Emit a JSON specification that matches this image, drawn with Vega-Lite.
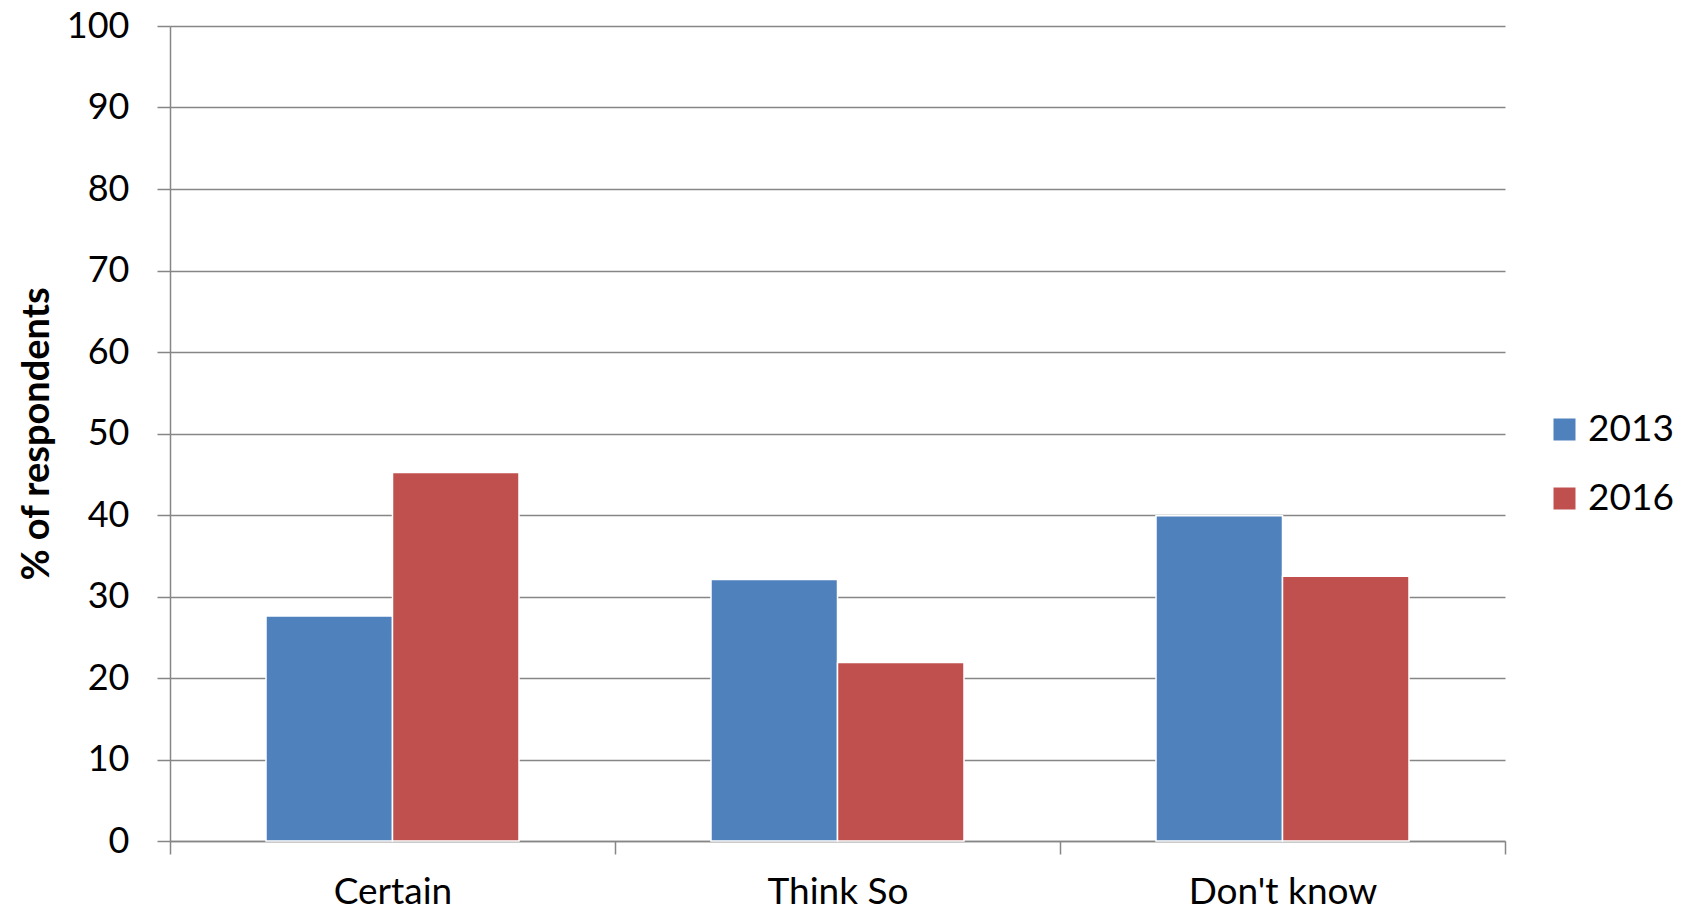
{
  "$schema": "https://vega.github.io/schema/vega-lite/v6.json",
  "width": 1335,
  "height": 815,
  "autosize": "none",
  "padding": {"left": 170, "top": 26, "right": 181, "bottom": 73},
  "background": "white",
  "data": {
    "values": [
      {"response": "Certain", "year": "2013", "pct": 27.6},
      {"response": "Certain", "year": "2016", "pct": 45.2},
      {"response": "Think So", "year": "2013", "pct": 32.1},
      {"response": "Think So", "year": "2016", "pct": 21.9},
      {"response": "Don't know", "year": "2013", "pct": 39.9},
      {"response": "Don't know", "year": "2016", "pct": 32.5}
    ]
  },
  "mark": {"type": "bar", "stroke": "white", "strokeWidth": 1.5},
  "encoding": {
    "x": {
      "field": "response",
      "type": "nominal",
      "sort": ["Certain", "Think So", "Don't know"],
      "scale": {"paddingInner": 0, "paddingOuter": 0},
      "axis": {
        "title": null,
        "labelAngle": 0,
        "labelLimit": 0,
        "tickBand": "extent",
        "tickSize": 13,
        "labelPadding": 20,
        "labelFont": "Lato",
        "labelFontSize": 37,
        "labelColor": "black",
        "domainColor": "#868686",
        "tickColor": "#868686",
        "domainWidth": 1.5,
        "tickWidth": 1.5
      }
    },
    "xOffset": {
      "field": "year",
      "type": "nominal",
      "scale": {"paddingInner": 0, "paddingOuter": 0.759}
    },
    "y": {
      "field": "pct",
      "type": "quantitative",
      "scale": {"domain": [0, 100], "nice": false},
      "axis": {
        "values": [0, 10, 20, 30, 40, 50, 60, 70, 80, 90, 100],
        "title": "% of respondents",
        "titleFont": "Lato",
        "titleFontSize": 38,
        "titleFontWeight": "bold",
        "titleColor": "black",
        "titlePadding": 10,
        "labelFont": "Lato",
        "labelFontSize": 36,
        "labelColor": "black",
        "labelPadding": 28,
        "tickSize": 13,
        "tickColor": "#868686",
        "tickWidth": 1.5,
        "domainColor": "#868686",
        "domainWidth": 1.5,
        "gridColor": "#868686",
        "gridWidth": 1.5
      }
    },
    "color": {
      "field": "year",
      "type": "nominal",
      "scale": {"range": ["#4F81BD", "#C0504D"]},
      "legend": {
        "orient": "none",
        "legendX": 1376,
        "legendY": 385,
        "title": null,
        "symbolType": "square",
        "symbolSize": 484,
        "symbolStrokeWidth": 0,
        "labelFont": "Lato",
        "labelFontSize": 37,
        "labelColor": "black",
        "labelOffset": 5,
        "rowPadding": 31
      }
    }
  },
  "config": {"view": {"stroke": null}}
}
